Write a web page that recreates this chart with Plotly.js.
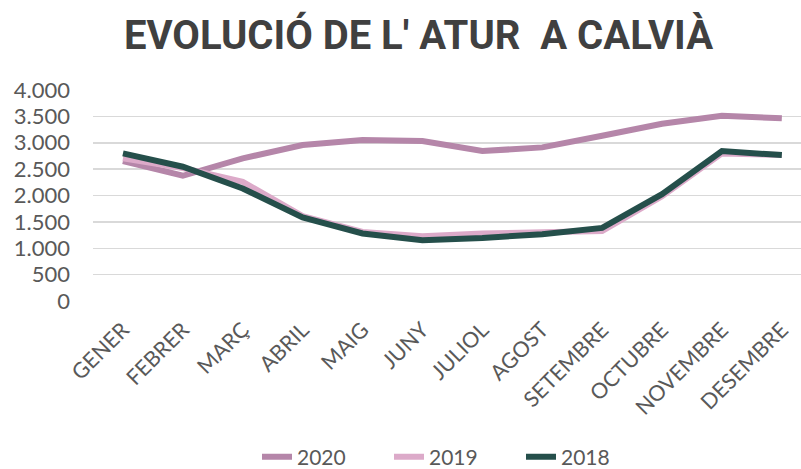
<!DOCTYPE html>
<html>
<head>
<meta charset="utf-8">
<script src="https://cdn.plot.ly/plotly-3.0.1.min.js"></script>
<style>html,body{margin:0;padding:0;background:#fff;}#chart{width:801px;height:469px;}</style>
</head>
<body>
<div id="chart"></div>
<script>
const months = ["GENER","FEBRER","MARÇ","ABRIL","MAIG","JUNY","JULIOL","AGOST","SETEMBRE","OCTUBRE","NOVEMBRE","DESEMBRE"];
const y2020 = [2652, 2374, 2704, 2956, 3051, 3032, 2842, 2912, 3133, 3361, 3513, 3463];
const y2019 = [2704, 2520, 2259, 1608, 1310, 1228, 1280, 1310, 1329, 1988, 2798, 2766];
const y2018 = [2798, 2545, 2134, 1583, 1280, 1152, 1196, 1266, 1386, 2026, 2842, 2766];
const yTicks = [0, 500, 1000, 1500, 2000, 2500, 3000, 3500, 4000];

const mk = (name, y, color) => ({
  x: months.map((_, i) => i), y: y, name: name, type: 'scatter', mode: 'lines',
  line: {color: color, width: 6, shape: 'linear'}
});

const data = [
  mk('2020', y2020, '#b586a9'),
  mk('2019', y2019, '#dcaac9'),
  mk('2018', y2018, '#254f4b')
];

const layout = {
  width: 801, height: 469,
  margin: {l: 93, r: 0, t: 90, b: 168},
  paper_bgcolor: '#ffffff', plot_bgcolor: '#ffffff',
  font: {family: 'Lato, "Open Sans", sans-serif', color: '#595959', size: 21},
  title: {
    text: "EVOLUCIÓ DE L' ATUR  A CALVIÀ",
    font: {family: 'Roboto, Lato, sans-serif', size: 40, color: '#404040', weight: 'bold'},
    x: 418.5 / 801, xanchor: 'center', xref: 'container', y: 1 - 35 / 469, yanchor: 'middle', yref: 'container'
  },
  xaxis: {
    range: [-0.5, 11.32], tickmode: 'array', tickvals: months.map((_, i) => i), ticktext: months,
    tickangle: -45, showgrid: false, zeroline: false, showline: false, ticks: '',
    ticklabelstandoff: 11,
    tickfont: {size: 21.5, color: '#595959'}, fixedrange: true
  },
  yaxis: {
    range: [0, 4000], tickmode: 'array', tickvals: yTicks, ticktext: yTicks.map(v => v.toLocaleString('de-DE')),
    showgrid: true, gridcolor: '#d9d9d9', gridwidth: 1.5, zeroline: false, showline: false, ticks: '',
    ticklabelstandoff: 22,
    tickfont: {size: 22, color: '#595959'}, fixedrange: true
  },
  showlegend: true,
  legend: {
    orientation: 'h', xref: 'container', yref: 'container', x: 455 / 801, xanchor: 'center',
    y: 1 - 457 / 469, yanchor: 'middle', font: {size: 21, color: '#595959'},
    entrywidth: 87, entrywidthmode: 'pixels', tracegroupgap: 0
  }
};

Plotly.newPlot('chart', data, layout, {displayModeBar: false, staticPlot: true});
</script>
</body>
</html>
